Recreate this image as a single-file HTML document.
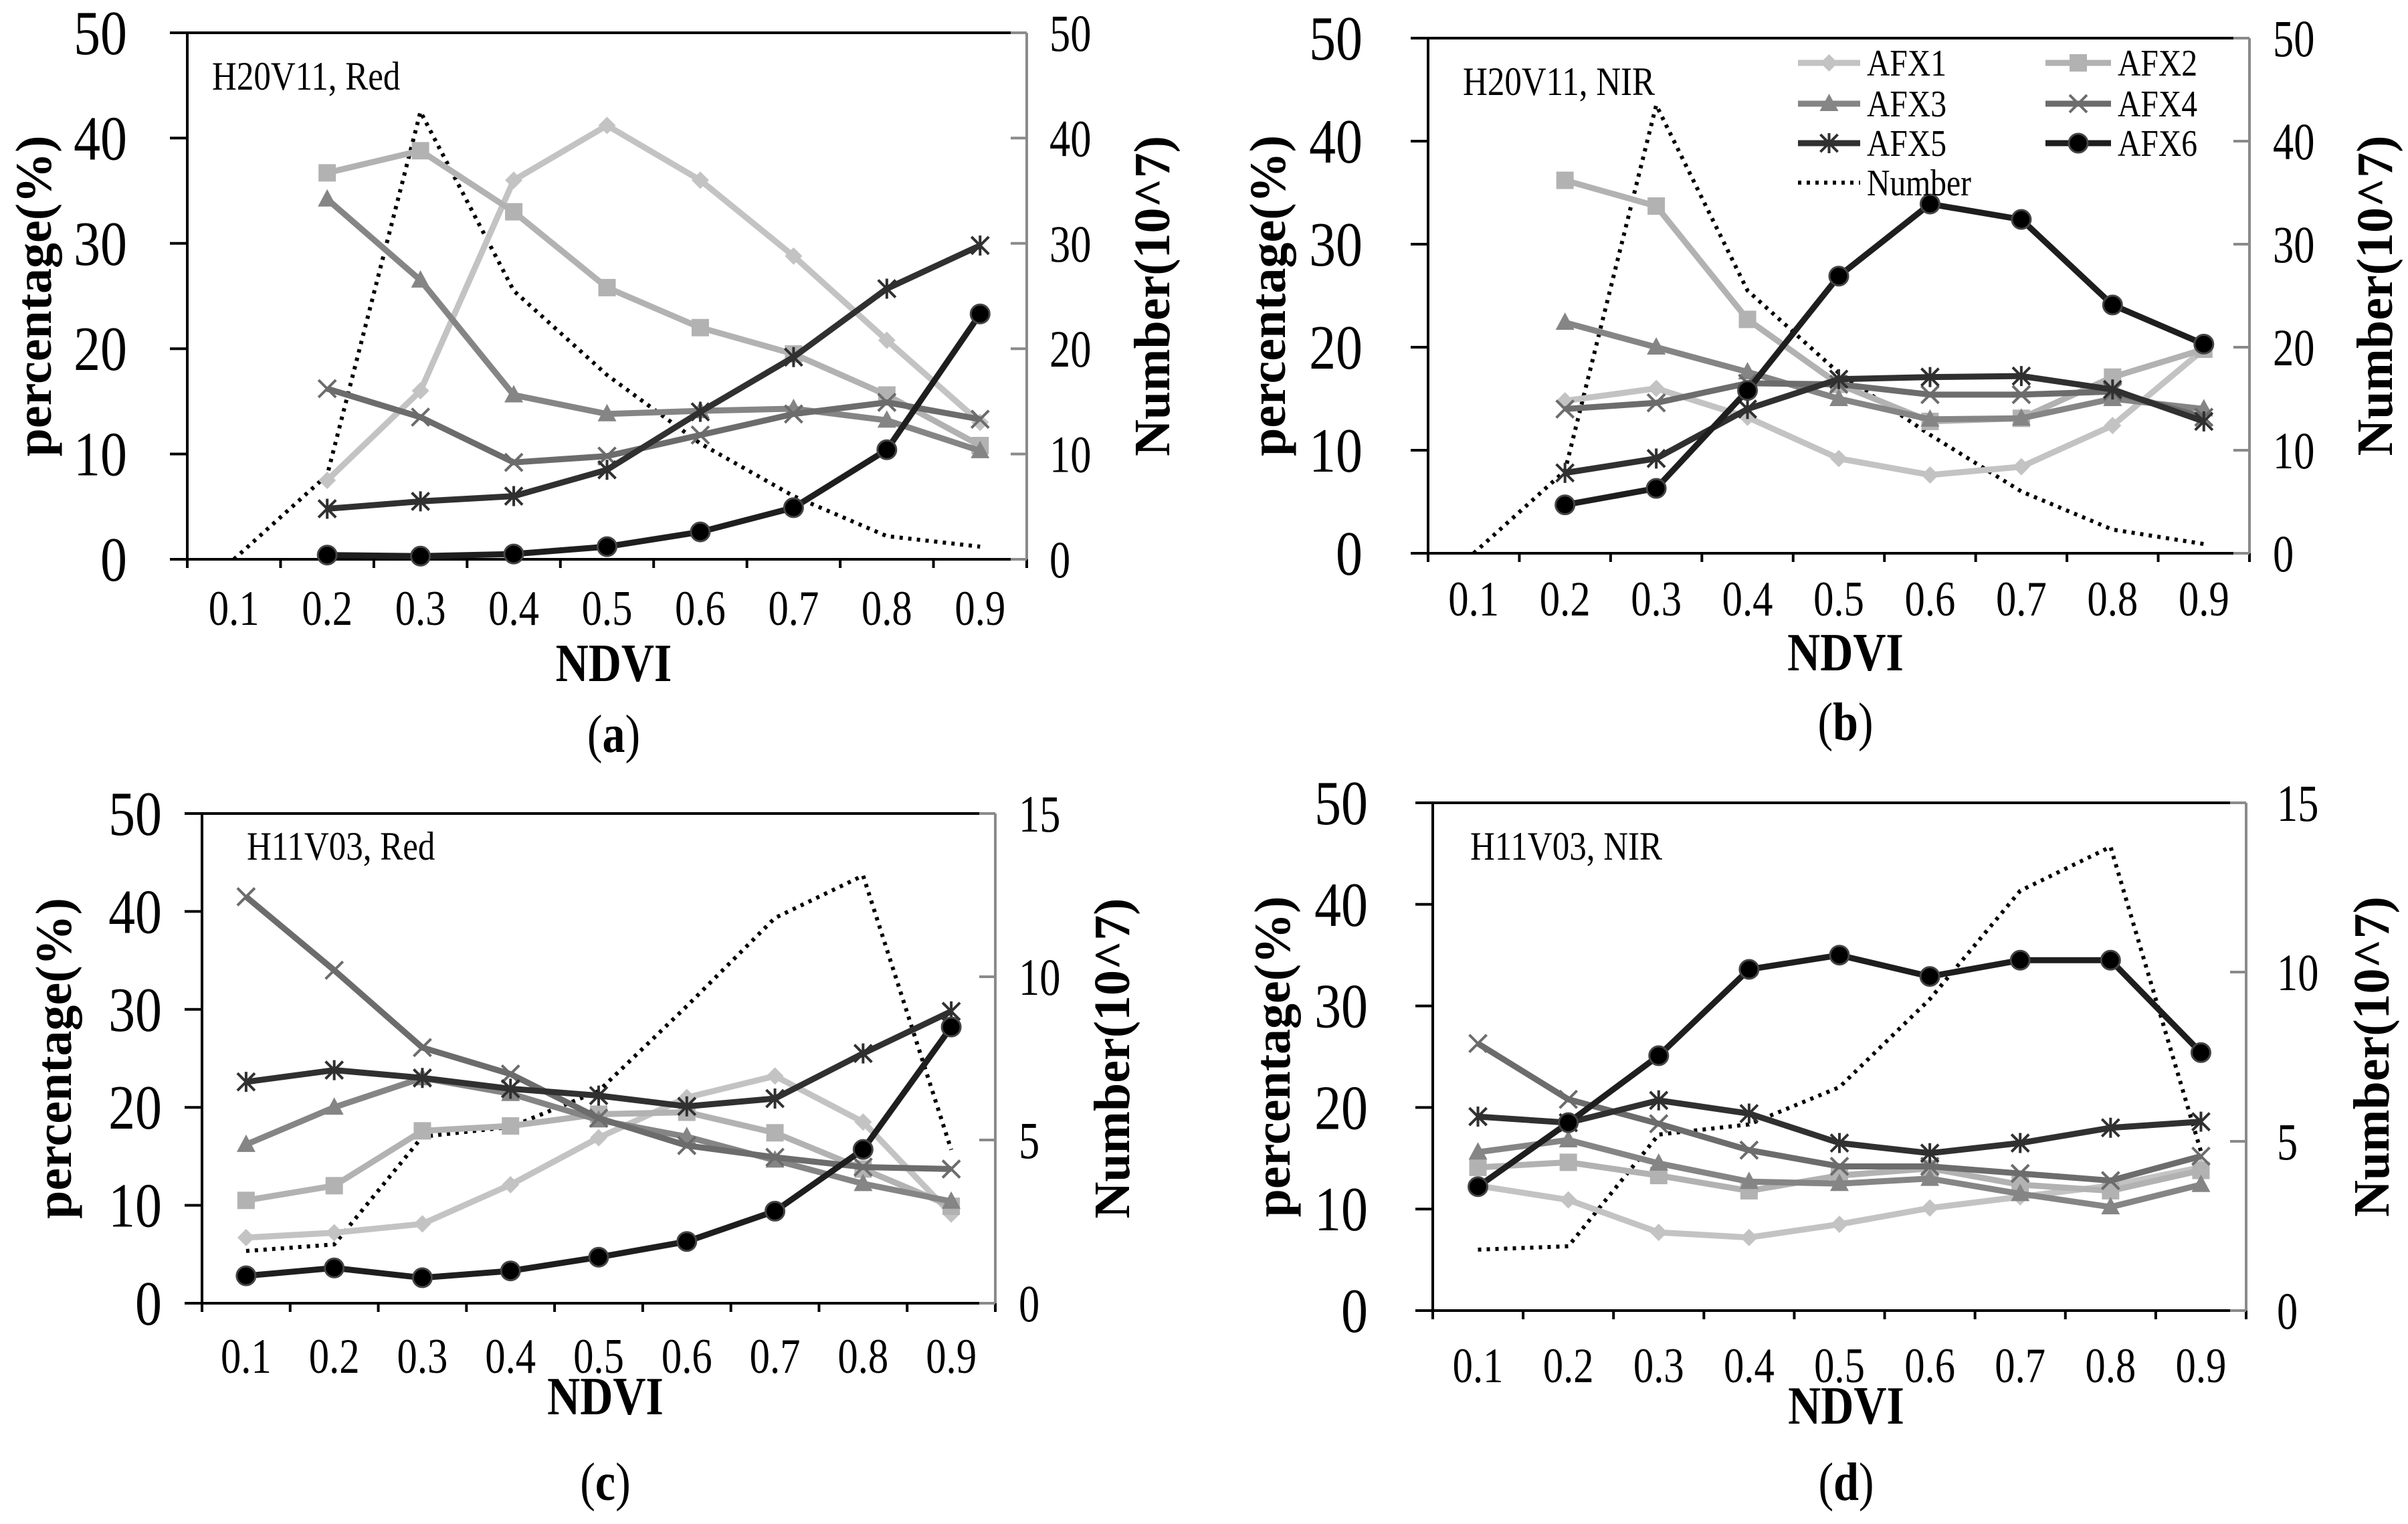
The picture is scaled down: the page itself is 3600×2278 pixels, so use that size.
<!DOCTYPE html>
<html><head><meta charset="utf-8"><style>
html,body{margin:0;padding:0;background:#fff;}
svg{display:block;font-family:"Liberation Serif",serif;}
</style></head><body>
<svg id="fig" width="3600" height="2278" viewBox="0 0 3600 2278" xmlns="http://www.w3.org/2000/svg"></svg>
<script>
const categories = ["0.1","0.2","0.3","0.4","0.5","0.6","0.7","0.8","0.9"];
const seriesNames = ["AFX1","AFX2","AFX3","AFX4","AFX5","AFX6"];
const leftTicks = [0,10,20,30,40,50];
const rightTicksTop = [0,10,20,30,40,50];
const rightTicksBottom = [0,5,10,15];

const a_AFX1 = [null,7.5,16,36,41.2,36,28.8,20.8,13];
const a_AFX2 = [null,36.7,38.8,33,25.8,22,19.5,15.6,10.8];
const a_AFX3 = [null,34.2,26.5,15.6,13.8,14.1,14.3,13.2,10.3];
const a_AFX4 = [null,16.2,13.5,9.2,9.8,11.8,13.8,14.9,13.3];
const a_AFX5 = [null,4.8,5.5,6,8.5,14,19.2,25.7,29.8];
const a_AFX6 = [null,0.4,0.3,0.5,1.2,2.6,4.9,10.4,23.3];
const a_Number = [0,8,42.5,25.5,17.5,11,6,2.2,1.2];

const b_AFX1 = [null,14.8,16,13.2,9.2,7.6,8.4,12.4,19.8];
const b_AFX2 = [null,36.2,33.7,22.7,16.4,12.8,13.1,17.1,19.8];
const b_AFX3 = [null,22.4,20,17.6,15,13,13.1,15,14];
const b_AFX4 = [null,14,14.6,16.5,16.4,15.4,15.4,15.7,13.2];
const b_AFX5 = [null,7.8,9.2,14,16.9,17.1,17.2,15.9,12.8];
const b_AFX6 = [null,4.7,6.3,15.8,26.9,33.9,32.4,24.1,20.3];
const b_Number = [0,8,43.5,25.5,17.5,11.5,6,2.3,0.9];

const c_AFX1 = [6.7,7.2,8.1,12.1,16.9,21,23.2,18.5,9.1];
const c_AFX2 = [10.5,12,17.6,18.1,19.3,19.5,17.4,13.7,9.9];
const c_AFX3 = [16.2,20,23,21.4,18.7,17,14.6,12.2,10.4];
const c_AFX4 = [41.5,34,26.1,23.4,18.9,16.1,14.9,13.9,13.7];
const c_AFX5 = [22.6,23.8,23,21.9,21.2,20.1,20.9,25.5,29.8];
const c_AFX6 = [2.8,3.6,2.6,3.3,4.7,6.3,9.4,15.7,28.2];
const c_Number = [1.6,1.8,5.1,5.4,6.5,9.1,11.8,13.1,4.7];

const d_AFX1 = [12.3,10.9,7.7,7.2,8.5,10.1,11.2,12.3,14.1];
const d_AFX2 = [14.1,14.6,13.3,11.8,13.3,14,12.4,11.8,13.8];
const d_AFX3 = [15.6,16.8,14.5,12.7,12.5,13,11.5,10.2,12.4];
const d_AFX4 = [26.3,20.8,18.4,15.8,14.2,14.2,13.5,12.8,15.2];
const d_AFX5 = [19.1,18.5,20.7,19.4,16.5,15.5,16.5,18,18.6];
const d_AFX6 = [12.2,18.5,25.1,33.6,35,32.9,34.5,34.5,25.4];
const d_Number = [1.8,1.9,5.2,5.5,6.6,9.2,12.4,13.7,4.7];

const NS="http://www.w3.org/2000/svg";
const svg=document.getElementById('fig');
function mk(tag,attrs,parent){const e=document.createElementNS(NS,tag);for(const k in attrs)e.setAttribute(k,attrs[k]);(parent||svg).appendChild(e);return e;}
function txt(g,x,y,size,str,anchor,sx,bold,rot){
  const t=mk('text',{x:0,y:0,'font-size':size,'text-anchor':anchor||'start',transform:`translate(${x},${y})${rot?' rotate('+rot+')':''} scale(${sx},1)`},g);
  if(bold)t.setAttribute('font-weight','bold');
  t.textContent=str;return t;
}

const colors=["#c3c3c3","#b2b2b2","#858585","#6c6c6c","#303030","#1e1e1e"];
const markers=["diamond","square","triangle","x","star","circle"];

function drawMarker(g,type,x,y,col){
  const s=13;
  if(type==="diamond") return mk('polygon',{points:`${x},${y-s} ${x+s},${y} ${x},${y+s} ${x-s},${y}`,fill:col},g);
  if(type==="square") return mk('rect',{x:x-s,y:y-s,width:2*s,height:2*s,fill:col},g);
  if(type==="triangle") return mk('polygon',{points:`${x},${y-s-2} ${x+s+1},${y+s-2} ${x-s-1},${y+s-2}`,fill:col},g);
  if(type==="x") return mk('path',{d:`M${x-s},${y-s}L${x+s},${y+s}M${x-s},${y+s}L${x+s},${y-s}`,stroke:col,'stroke-width':4,fill:'none'},g);
  if(type==="star") return mk('path',{d:`M${x-s},${y-s}L${x+s},${y+s}M${x-s},${y+s}L${x+s},${y-s}M${x},${y-s-2}L${x},${y+s+2}`,stroke:col,'stroke-width':4,fill:'none'},g);
  if(type==="circle") return mk('circle',{cx:x,cy:y,r:s+1,fill:'#000',stroke:'#444','stroke-width':3},g);
}

function panel(cfg){
  const g=mk('g',{});
  
  
  const {L,R,T,B}=cfg;
  const bw=(R-L)/categories.length;
  const xs=i=>L+bw*(i+0.5);
  const yl=v=>B-(v/50)*(B-T);
  const rmax=cfg.rTicks[cfg.rTicks.length-1];
  const yr=v=>B-(v/rmax)*(B-T);
  const fr=mk('path',{d:`M${L},${B}L${L},${T}L${R},${T}`,stroke:'#000','stroke-width':4,fill:'none'},g);
   
  const ra=mk('line',{x1:R,y1:T,x2:R,y2:B,stroke:'#8a8a8a','stroke-width':4},g);
   
  const xa=mk('line',{x1:L-26,y1:B,x2:R,y2:B,stroke:'#000','stroke-width':4},g);
   
  for(let i=0;i<=categories.length;i++){mk('line',{x1:L+bw*i,y1:B,x2:L+bw*i,y2:B+13,stroke:'#000','stroke-width':4},g);}
  categories.forEach((c,i)=>{const t=txt(g,xs(i),cfg.tickY+6,74,c,'middle',0.82);
     });
  leftTicks.forEach(v=>{mk('line',{x1:L-26,y1:yl(v),x2:L,y2:yl(v),stroke:'#000','stroke-width':4},g);
    const t=txt(g,cfg.lTickX,yl(v)+32,94,String(v),'end',0.85);
     });
  cfg.rTicks.forEach(v=>{mk('line',{x1:R-24,y1:yr(v),x2:R,y2:yr(v),stroke:'#8a8a8a','stroke-width':4},g);
    const t=txt(g,cfg.rTickX,yr(v)+27,78,String(v),'start',0.8);
     });
  const xt=txt(g,(L+R)/2+10,cfg.ndviY+6,80,"NDVI",'middle',0.85,true);
   
  const lt=txt(g,cfg.lTitleX-12,(T+B)/2,76,"percentage(%)",'middle',1,true,-90);
   
  const rt=txt(g,cfg.rTitleX+28,(T+B)/2,76,"Number(10^7)",'middle',1,true,-90);
   
  const an=txt(g,cfg.annX,cfg.annY,60,cfg.ann,'start',0.85);
   
  const cap=mk('text',{x:0,y:0,'font-size':80,'text-anchor':'middle',transform:`translate(${(L+R)/2+10},${cfg.capY+6}) scale(0.85,1)`},g);
  cap.innerHTML='(<tspan font-weight="bold">'+cfg.cap+'</tspan>)';
   
  const np=cfg.num.map((v,i)=>`${i?'L':'M'}${xs(i)},${yr(v)}`).join('');
  const nl=mk('path',{d:np,stroke:'#000','stroke-width':6,'stroke-dasharray':'5 8',fill:'none'},g);
   
  cfg.series.forEach((arr,si)=>{
    const sg=mk('g',{},g);
    
    
    let d='';arr.forEach((v,i)=>{if(v==null)return;d+=(d?'L':'M')+xs(i)+','+yl(v);});
    mk('path',{d:d,stroke:colors[si],'stroke-width':9,fill:'none','stroke-linejoin':'round'},sg);
    arr.forEach((v,i)=>{if(v==null)return;const m=drawMarker(sg,markers[si],xs(i),yl(v),colors[si]);
      
      });
  });
  return g;
}

panel({name:'panel-a',L:280,R:1535,T:49,B:836,tickY:928,ndviY:1012,capY:1118,cap:'a',lTickX:190,rTickX:1569,lTitleX:88,rTitleX:1720,annX:317,annY:134,ann:'H20V11, Red',rTicks:rightTicksTop,
  series:[a_AFX1,a_AFX2,a_AFX3,a_AFX4,a_AFX5,a_AFX6],num:a_Number});
panel({name:'panel-b',L:2135,R:3363,T:57,B:827,tickY:914,ndviY:996,capY:1100,cap:'b',lTickX:2037,rTickX:3398,lTitleX:1933,rTitleX:3548,annX:2187,annY:142,ann:'H20V11, NIR',rTicks:rightTicksTop,
  series:[b_AFX1,b_AFX2,b_AFX3,b_AFX4,b_AFX5,b_AFX6],num:b_Number});
panel({name:'panel-c',L:302,R:1488,T:1216,B:1948,tickY:2046,ndviY:2108,capY:2236,cap:'c',lTickX:242,rTickX:1523,lTitleX:118,rTitleX:1660,annX:369,annY:1285,ann:'H11V03, Red',rTicks:rightTicksBottom,
  series:[c_AFX1,c_AFX2,c_AFX3,c_AFX4,c_AFX5,c_AFX6],num:c_Number});
panel({name:'panel-d',L:2142,R:3358,T:1200,B:1959,tickY:2060,ndviY:2122,capY:2236,cap:'d',lTickX:2045,rTickX:3404,lTitleX:1940,rTitleX:3543,annX:2198,annY:1285,ann:'H11V03, NIR',rTicks:rightTicksBottom,
  series:[d_AFX1,d_AFX2,d_AFX3,d_AFX4,d_AFX5,d_AFX6],num:d_Number});

const lg=mk('g',{});


const legendRows=[94,155,214,273];
seriesNames.forEach((n,i)=>{
  const col=i%2,row=Math.floor(i/2);
  const x0=col?3058:2688, x1=col?3156:2781, y=legendRows[row];
  const e=mk('g',{},lg);
  
  
  mk('line',{x1:x0,y1:y,x2:x1,y2:y,stroke:colors[i],'stroke-width':9},e);
  drawMarker(e,markers[i],(x0+x1)/2,y,colors[i]);
  txt(e,x1+10,y+19,56,n,'start',0.85);
});
const ne=mk('g',{},lg);


mk('line',{x1:2688,y1:273,x2:2781,y2:273,stroke:'#000','stroke-width':6,'stroke-dasharray':'5 8'},ne);
txt(ne,2791,292,56,"Number",'start',0.85);
</script>
</body></html>
